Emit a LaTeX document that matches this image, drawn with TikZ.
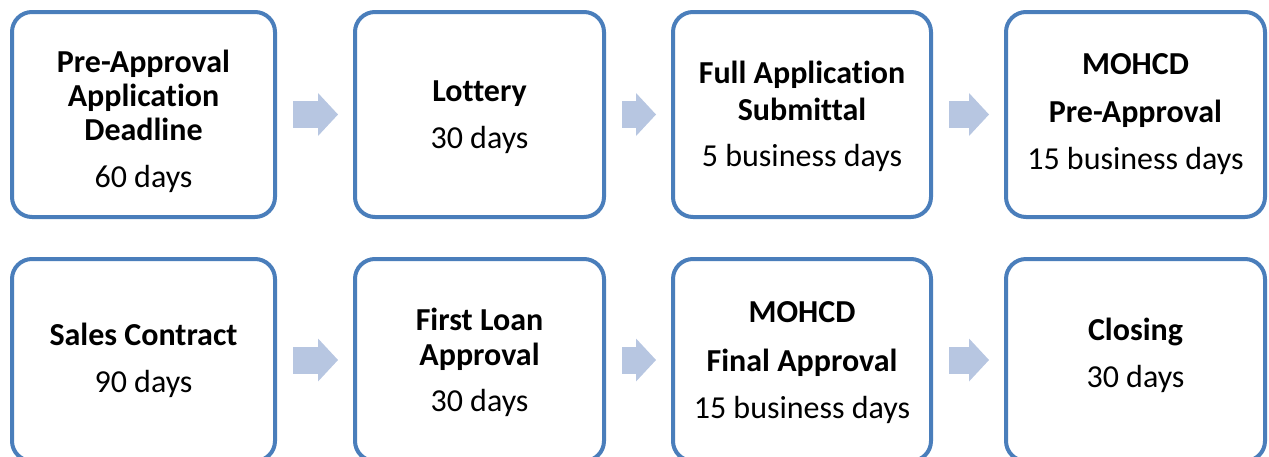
\documentclass[tikz,border=0pt]{standalone}
\usepackage{fontspec}
\setmainfont[Ligatures=NoCommon]{Carlito}
\usetikzlibrary{arrows.meta, calc}
\definecolor{boxblue}{HTML}{4A7EBB}
\definecolor{arrowblue}{HTML}{B7C6E1}

\begin{document}
\begin{tikzpicture}[
    x=1pt, y=-1pt,
      base/.style = {draw=boxblue, line width=4pt, rounded corners=20pt, fill=white,
                     align=center, inner sep=0pt, outer sep=0pt,
                     font=\fontsize{32pt}{34pt}\selectfont},
    toprow/.style = {base, minimum height=205pt},
    lowrow/.style = {base, minimum height=202pt},
      flow/.style = {arrowblue, line width=27pt,
                     -{Triangle[length=20pt, width=43pt, line width=0pt]},
                     shorten <=18pt, shorten >=17pt}
                    ]
  \useasboundingbox (0,0) rectangle (1269,456);
  \clip (0,0) rectangle (1269,456);
  % upper row
  \node [toprow, minimum width=263pt] (preapp)  at (143.5,114.5) {\rule{0pt}{36pt}\textbf{Pre-Approval}\\ \textbf{Application}\\ \textbf{Deadline}\\[13pt] 60 days};
  \node [toprow, minimum width=249pt] (lottery) at (479.5,114.5) {\rule{0pt}{27pt}\textbf{Lottery}\\[13pt] 30 days};
  \node [toprow, minimum width=258pt] (fullapp) at (802,114.5)   {\rule{0pt}{27pt}\textbf{Full Application}\\[3pt] \textbf{Submittal}\\[12pt] 5 business days};
  \node [toprow, minimum width=259pt] (mohcdpre) at (1135.5,114.5) {\textbf{MOHCD}\\[14pt] \textbf{Pre-Approval}\\[13pt] 15 business days};
  % lower row
  \node [lowrow, minimum width=263pt] (sales)   at (143.5,360) {\textbf{Sales Contract}\\[13pt] 90 days};
  \node [lowrow, minimum width=249pt] (loan)    at (479.5,360) {\rule{0pt}{27pt}\textbf{First Loan}\\[1pt] \textbf{Approval}\\[12pt] 30 days};
  \node [lowrow, minimum width=258pt] (mohcdfin) at (802,360)  {\rule{0pt}{27pt}\textbf{MOHCD}\\[15pt] \textbf{Final Approval}\\[13pt] 15 business days};
  \node [lowrow, minimum width=259pt] (closing) at (1135.5,360) {\textbf{Closing}\\[13pt] 30 days\rule[-14pt]{0pt}{14pt}};
  %---
  \draw [flow] (preapp) -- (lottery);
  \draw [flow] (lottery) -- (fullapp);
  \draw [flow] (fullapp) -- (mohcdpre);
  \draw [flow] (sales) -- (loan);
  \draw [flow] (loan) -- (mohcdfin);
  \draw [flow] (mohcdfin) -- (closing);
\end{tikzpicture}
\end{document}
